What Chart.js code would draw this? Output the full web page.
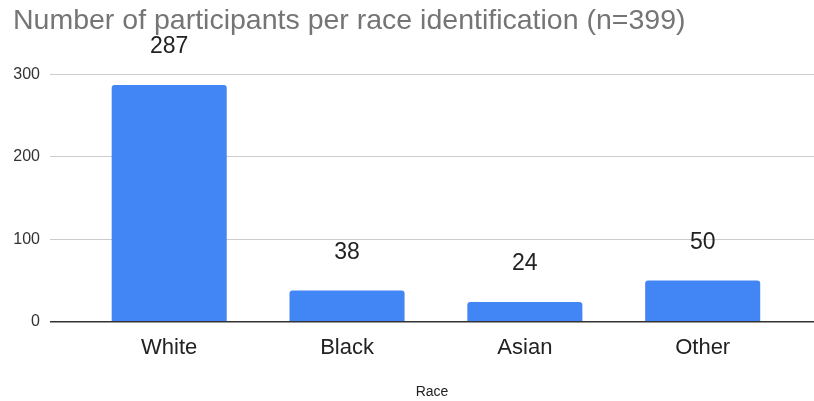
<!DOCTYPE html>
<html>
<head>
<meta charset="utf-8">
<script src="https://cdn.jsdelivr.net/npm/chart.js@4"></script>
<style>
  body { margin: 0; background: #fff; }
  #wrap { width: 814px; height: 401px; }
</style>
</head>
<body>
<div id="wrap"><canvas id="myChart" width="814" height="401"></canvas></div>
<script>
var categories = ['White', 'Black', 'Asian', 'Other'];
var counts = [287, 38, 24, 50];
var yTicks = [0, 100, 200, 300];
var chartTitle = 'Number of participants per race identification (n=399)';
var xTitle = 'Race';

var fontFamily = '"Liberation Sans", Arial, sans-serif';

// bars sit on a linear x axis so there is extra room either side like the original
var points = counts.map(function(v, i){ return {x: i, y: v}; });

// draws the value above each bar
var valueLabels = {
  id: 'valueLabels',
  afterDatasetsDraw: function(chart){
    var ctx = chart.ctx;
    var meta = chart.getDatasetMeta(0);
    ctx.save();
    ctx.font = '23px ' + fontFamily;
    ctx.fillStyle = '#222';
    ctx.textAlign = 'center';
    ctx.textBaseline = 'middle';
    meta.data.forEach(function(bar, i){
      ctx.fillText(String(counts[i]), bar.x, bar.y - 38);
    });
    ctx.restore();
  }
};

var ctx = document.getElementById('myChart').getContext('2d');
var chart = new Chart(ctx, {
  type: 'bar',
  data: {
    datasets: [{
      data: points,
      backgroundColor: '#4285F4',
      borderRadius: 3,
      borderSkipped: 'start',
      categoryPercentage: 1,
      barPercentage: 0.647
    }]
  },
  options: {
    responsive: false,
    animation: false,
    layout: { padding: { left: 13, right: 0, top: 0, bottom: 0 } },
    plugins: {
      legend: { display: false },
      tooltip: { enabled: false },
      title: {
        display: true,
        text: chartTitle,
        align: 'start',
        color: '#757575',
        font: { family: fontFamily, size: 28.5, weight: 'normal' },
        padding: { top: 4, bottom: 36 }
      }
    },
    scales: {
      x: {
        type: 'linear',
        offset: false,
        min: -0.6704,
        max: 3.626,
        afterBuildTicks: function(scale){
          scale.ticks = categories.map(function(c, i){ return {value: i}; });
        },
        ticks: {
          callback: function(value){ return categories[value]; },
          color: '#222',
          font: { family: fontFamily, size: 22 },
          padding: 13,
          maxRotation: 0,
          autoSkip: false
        },
        grid: { display: false, drawTicks: false, offset: false },
        border: { display: false },
        title: {
          display: true,
          text: xTitle,
          color: '#222',
          font: { family: fontFamily, size: 14 },
          padding: { top: 10, bottom: 0 }
        }
      },
      y: {
        min: 0,
        max: 300,
        afterBuildTicks: function(scale){
          scale.ticks = yTicks.map(function(v){ return {value: v}; });
        },
        afterFit: function(scale){ scale.width = 37; },
        ticks: {
          color: '#333',
          font: { family: fontFamily, size: 16 },
          padding: 10
        },
        grid: {
          drawTicks: false,
          color: function(c){ return c.tick && c.tick.value === 0 ? '#333' : '#ccc'; },
          lineWidth: function(c){ return c.tick && c.tick.value === 0 ? 1.5 : 1; }
        },
        border: { display: false }
      }
    }
  },
  plugins: [valueLabels]
});
</script>
</body>
</html>
